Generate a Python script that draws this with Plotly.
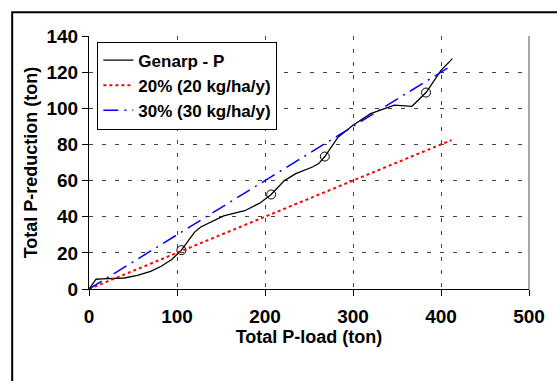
import plotly.graph_objects as go

# Data
load = [0, 8, 15, 30, 40, 55, 70, 82, 94, 105, 112, 120, 127, 138, 153, 177, 194,
        207, 214, 222, 235, 254, 261, 268, 283, 300, 320, 335, 347, 367, 383, 400, 413]
genarp = [0, 5.4, 5.6, 6.0, 6.1, 7.6, 9.8, 12.6, 16.3, 21.5, 26, 31.5, 34.3, 37, 40.5,
          43.3, 47.5, 52.3, 56, 60, 63.8, 67.5, 69.4, 73.3, 84, 90.6, 97, 99.8, 101.7,
          101.1, 108.7, 121, 127.5]
marker_load = [105, 207, 268, 383]
marker_red = [21.5, 52.3, 73.3, 108.7]
line_load = [0, 412]
red20 = [0, 82.4]
blue30 = [0, 123.6]

font = "Liberation Sans, Arial, sans-serif"

fig = go.Figure()
fig.add_trace(go.Scatter(x=load, y=genarp, mode="lines", name="<b>Genarp - P</b>",
                         line=dict(color="black", width=1.3)))
fig.add_trace(go.Scatter(x=line_load, y=red20, mode="lines", name="<b>20% (20 kg/ha/y)</b>",
                         line=dict(color="red", width=2, dash="dot")))
fig.add_trace(go.Scatter(x=line_load, y=blue30, mode="lines", name="<b>30% (30 kg/ha/y)</b>",
                         line=dict(color="blue", width=1.5, dash="15px,6px,2px,6px")))
fig.add_trace(go.Scatter(x=marker_load, y=marker_red, mode="markers", showlegend=False,
                         marker=dict(symbol="circle-open", size=9, color="black",
                                     line=dict(width=1, color="black"))))

grid = dict(showgrid=True, gridcolor="#444", gridwidth=1, griddash="4px,9px",
            showline=True, linecolor="black", linewidth=1, zeroline=False,
            ticks="outside", ticklen=6, tickcolor="black")

fig.update_xaxes(range=[0, 500], tickvals=[0, 100, 200, 300, 400, 500],
                 ticktext=["<b>%d</b>" % v for v in [0, 100, 200, 300, 400, 500]],
                 tickfont=dict(family=font, size=19, color="black"),
                 ticklabelstandoff=4,
                 title=dict(text="<b>Total P-load (ton)</b>", standoff=0,
                            font=dict(family=font, size=18, color="black")),
                 **grid)
fig.update_yaxes(range=[0, 140], tickvals=list(range(0, 141, 20)),
                 ticktext=["<b>%d</b>" % v for v in range(0, 141, 20)],
                 tickfont=dict(family=font, size=19, color="black"),
                 title=dict(text="<b>Total P-reduction (ton)</b>", standoff=4,
                            font=dict(family=font, size=18, color="black")),
                 **grid)

fig.update_layout(
    width=557, height=381,
    margin=dict(l=89, r=19, t=36, b=92),
    paper_bgcolor="white", plot_bgcolor="white",
    font=dict(family=font, color="black"),
    legend=dict(x=0.019, y=0.978, xanchor="left", yanchor="top",
                bgcolor="white", bordercolor="black", borderwidth=1,
                font=dict(family=font, size=17, color="black"),
                tracegroupgap=0, itemwidth=30),
    shapes=[
        dict(type="line", xref="paper", yref="paper", x0=1, x1=1, y0=0, y1=1,
             line=dict(color="#888", width=1.5)),
        dict(type="rect", xref="paper", yref="paper", x0=-0.1746, x1=1.3,
             y0=-0.6, y1=1.0937, line=dict(color="black", width=2)),
    ],
)

fig.write_html("out.html")
